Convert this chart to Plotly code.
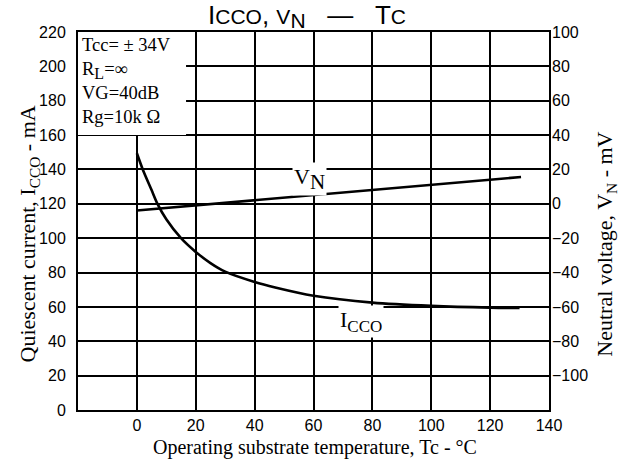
import plotly.graph_objects as go

# ---- data ----
temp_icco = [0, 2, 5, 7, 10, 15, 20, 25, 30, 40, 47, 60, 80, 100, 120, 130]
icco_mA = [149.4, 140, 128, 120, 111, 100, 92, 85.5, 80.5, 74.5, 71.3, 66.5, 62.5, 60.6, 59.6, 59.4]
temp_vn = [0, 20, 40, 60, 80, 100, 120, 130.5]
vn_mV = [-3.9, -0.9, 2.2, 5.3, 8.1, 11.1, 13.9, 15.6]

x_ticks = [0, 20, 40, 60, 80, 100, 120, 140]
y_left_ticks = list(range(0, 221, 20))
y_right_ticks = list(range(-100, 101, 20))

SERIF = "Liberation Serif, Times New Roman, serif"
SANS = "Liberation Sans, Arial, sans-serif"

fig = go.Figure()
fig.add_trace(go.Scatter(x=temp_icco, y=icco_mA, mode="lines", line=dict(color="black", width=2.6, shape="spline", smoothing=0.8),
                         showlegend=False, hoverinfo="skip"))
fig.add_trace(go.Scatter(x=temp_vn, y=vn_mV, yaxis="y2", mode="lines", line=dict(color="black", width=2.6),
                         showlegend=False, hoverinfo="skip"))

fig.update_layout(
    width=619, height=466,
    margin=dict(l=78, r=70, t=32, b=56),
    paper_bgcolor="white", plot_bgcolor="white",
    xaxis=dict(range=[-20, 140], tickvals=x_ticks, showgrid=True, gridcolor="black", gridwidth=1.6,
               showline=True, linecolor="black", linewidth=2, mirror=True, zeroline=False,
               ticks="", tickfont=dict(family=SANS, size=16, color="black"), ticklabelstandoff=0),
    yaxis=dict(range=[0, 220], tickvals=y_left_ticks, showgrid=True, gridcolor="black", gridwidth=1.6,
               showline=True, linecolor="black", linewidth=2, mirror=True, zeroline=False,
               ticks="", tickfont=dict(family=SANS, size=16, color="black"), ticklabelstandoff=7),
    yaxis2=dict(range=[-120, 100], tickvals=y_right_ticks, overlaying="y", side="right", showgrid=False,
                zeroline=False, showline=False, ticks="",
                tickfont=dict(family=SANS, size=16, color="black"), ticklabelstandoff=2),
)

# white box behind conditions text
fig.add_shape(type="rect", xref="x", yref="y", x0=-20, x1=16.7, y0=160, y1=220,
              fillcolor="white", line=dict(width=0), layer="between")

fig.add_annotation(xref="x", yref="y", x=-20, y=220, xanchor="left", yanchor="top", xshift=2, yshift=-1,
                   text="Tcc= ± 34V<br>R<sub><span style='font-size:16px'>L</span></sub>=∞<br>VG=40dB<br>Rg=10k Ω",
                   align="left", showarrow=False,
                   font=dict(family=SERIF, size=18.5, color="black"))

fig.add_annotation(xref="x", yref="y", x=58.6, y=134.5, text="V<sub><span style='font-size:21px'>N</span></sub>",
                   showarrow=False, bgcolor="white", borderpad=1, font=dict(family=SERIF, size=22, color="black"))
fig.add_annotation(xref="x", yref="y", x=76, y=51.4, text="I<sub><span style='font-size:17px'>CCO</span></sub>",
                   showarrow=False, bgcolor="white", borderpad=1, font=dict(family=SERIF, size=22, color="black"))

# title
fig.add_annotation(xref="paper", yref="paper", x=0.486, y=1.042, xanchor="center", yanchor="middle",
                   text="I<span style='font-size:21px'>CCO</span>, <span style='font-size:21px'>V<sub><span style='font-size:21px'>N</span></sub></span>&nbsp;&nbsp;&nbsp;—&nbsp;&nbsp;&nbsp;T<span style='font-size:21px'>C</span>",
                   showarrow=False, font=dict(family=SANS, size=26, color="black"))

# axis titles
fig.add_annotation(xref="paper", yref="paper", x=0.504, y=-0.098, xanchor="center", yanchor="middle",
                   text="Operating substrate temperature, Tc - °C", showarrow=False,
                   font=dict(family=SERIF, size=20, color="black"))
fig.add_annotation(xref="paper", yref="paper", x=-0.102, y=0.467, xanchor="center", yanchor="middle", textangle=-90,
                   text="Quiescent current, I<sub>CCO</sub> - mA", showarrow=False,
                   font=dict(family=SERIF, size=22, color="black"))
fig.add_annotation(xref="paper", yref="paper", x=1.121, y=0.44, xanchor="center", yanchor="middle", textangle=-90,
                   text="Neutral voltage, V<sub>N</sub> - mV", showarrow=False,
                   font=dict(family=SERIF, size=22, color="black"))

# remove the browser's default 8px body margin so the 619x466 figure fills the window
fig.write_html("out.html", config={"displayModeBar": False},
               post_script="document.body.style.margin='0';")
